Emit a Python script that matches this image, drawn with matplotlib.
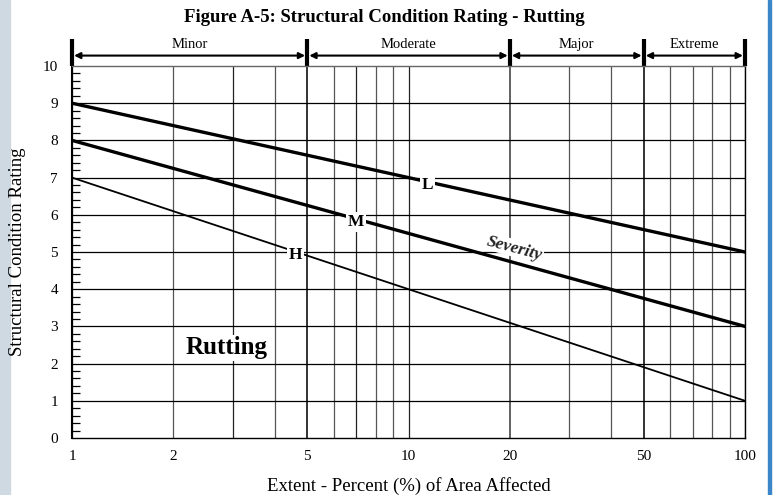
import numpy as np
import matplotlib
matplotlib.use("Agg")
from matplotlib import pyplot as plt
from matplotlib.transforms import blended_transform_factory
from matplotlib.patches import Rectangle

plt.rcParams['font.family'] = ['Liberation Serif', 'DejaVu Serif']

# severity curves (straight on log-x)
extent = [1, 100]
rating_L = [9, 5]
rating_M = [8, 3]
rating_H = [7, 1]

# where the severity letters sit on each line
label_x = {'L': 11.4, 'M': 7.0, 'H': 4.6}

# extent ranges on top
range_edges = [1, 5, 20, 50, 100]
range_names = ['Minor', 'Moderate', 'Major', 'Extreme']

xticks = [1, 2, 5, 10, 20, 50, 100]
vgrid = [1, 2, 3, 4, 5, 6, 7, 8, 9, 10, 20, 30, 40, 50, 60, 70, 80, 90, 100]

fig = plt.figure(figsize=(7.73, 4.95), dpi=100)
ax = fig.add_axes([72/773, 1 - 438/495, 673/773, 372/495])

# screenshot edges
fig.patches.append(Rectangle((0, 0), 10/773, 1, transform=fig.transFigure,
                             color='#cfd9e1', zorder=-5))
fig.patches.append(Rectangle((768/773, 0), 3/773, 1, transform=fig.transFigure,
                             color='#3a86c8', zorder=-5))

ax.set_xscale('log')
ax.set_xlim(1, 100)
ax.set_ylim(0, 10)

for v in vgrid:
    lw = 1.3 if v in (5, 20, 50) else 0.9
    col = '#222222' if v in (3, 5, 7, 10, 50) else '#555555'
    ax.axvline(v, color=col, lw=lw, zorder=1)
for h in range(1, 10):
    ax.axhline(h, color='black', lw=0.9, zorder=1)

ax.plot(extent, rating_L, color='black', lw=2.4, zorder=3)
ax.plot(extent, rating_M, color='black', lw=2.4, zorder=3)
ax.plot(extent, rating_H, color='black', lw=1.3, zorder=3)

for name, ys in (('L', rating_L), ('M', rating_M), ('H', rating_H)):
    lx = label_x[name]
    ly = np.interp(np.log10(lx), np.log10(extent), ys)
    ax.text(lx, ly - 0.08, name, ha='center', va='center', fontsize=12.5, fontweight='bold',
            bbox=dict(facecolor='white', edgecolor='none', pad=1.2), zorder=4)

ax.text(20.7, 5.1, 'Severity', rotation=-15, ha='center', va='center', fontsize=12.5,
        fontweight='bold', fontstyle='italic', color='#222222',
        bbox=dict(facecolor='white', edgecolor='none', pad=0.5), zorder=4)

ax.text(2.87, 2.42, 'Rutting', ha='center', va='center', fontsize=18, fontweight='bold',
        bbox=dict(facecolor='white', edgecolor='none', pad=1), zorder=4)

# ticks
ax.set_xticks(xticks)
ax.set_xticklabels([str(t) for t in xticks])
ax.xaxis.set_minor_locator(matplotlib.ticker.NullLocator())
ax.tick_params(axis='x', length=0, pad=9, labelsize=11)
ax.set_yticks(range(0, 11))
ax.set_yticks(np.arange(0, 10.01, 0.2), minor=True)
ax.tick_params(axis='y', which='major', length=0, pad=10, labelsize=11)
ax.tick_params(axis='y', which='minor', direction='in', length=6, width=0.9)

for s in ax.spines.values():
    s.set_linewidth(1.0)
ax.spines['left'].set_linewidth(1.5)
ax.spines['top'].set_color('#666666')

ax.set_xlabel('Extent - Percent (%) of Area Affected', fontsize=13.5, labelpad=10)
ax.set_ylabel('Structural Condition Rating', fontsize=13.5, labelpad=12)
fig.text(384/773, 1 - 17/495, 'Figure A-5: Structural Condition Rating - Rutting',
         ha='center', va='center', fontsize=13.5, fontweight='bold')

# range markers above the plot
trans = blended_transform_factory(ax.transData, ax.transAxes)
for e in range_edges:
    ax.plot([e, e], [1.0, 1.072], color='black', lw=3, transform=trans, clip_on=False,
            solid_capstyle='butt')
for i, name in enumerate(range_names):
    a, b = range_edges[i], range_edges[i + 1]
    ax.annotate('', xy=(b, 1.028), xytext=(a, 1.028), xycoords=trans, textcoords=trans,
                arrowprops=dict(arrowstyle='<|-|>', color='black', lw=1.5,
                                shrinkA=1.5, shrinkB=1.5, mutation_scale=9))
    mid = np.sqrt(a * b)
    ax.text(mid, 1.04, name, transform=trans, ha='center', va='bottom', fontsize=10.5)

fig.savefig('out.png', dpi=100)
